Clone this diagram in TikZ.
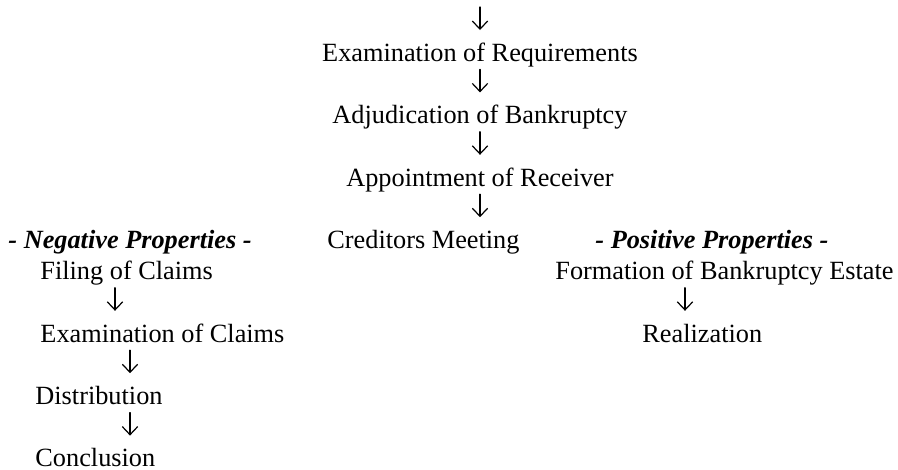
\documentclass[tikz,border=0pt]{standalone}
\usepackage{fontspec}
\setmainfont{Liberation Serif}
\usetikzlibrary{arrows.meta,calc}

\begin{document}
\begin{tikzpicture}[
  x=0.4563pt, y=-0.4563pt,
  every node/.style={inner sep=0pt, font=\fontsize{12pt}{14pt}\selectfont},
  heading/.style={font=\fontsize{12pt}{14pt}\selectfont\bfseries\itshape},
  flow/.style={line width=0.55pt, line cap=round,
    -{Straight Barb[length=3.7pt, width=7pt, line width=0.55pt]}}
]
\useasboundingbox (0,0) rectangle (898,470);

% main sequence, centred
\coordinate (start) at (480,7);
\node[anchor=base] (req) at (480,61.2) {Examination of Requirements};
\node[anchor=base] (adj) at (480,123.6) {Adjudication of Bankruptcy};
\node[anchor=base] (rec) at (480,186) {Appointment of Receiver};
\node[anchor=base west] (cred) at (327,248.4) {Creditors Meeting};

% negative properties branch
\node[heading, anchor=base west] (neg) at (8,248.4) {- Negative Properties -};
\node[anchor=base west] (filing) at (40,279.6) {Filing of Claims};
\node[anchor=base west] (exclaims) at (40,342) {Examination of Claims};
\node[anchor=base west] (dist) at (35,404.4) {Distribution};
\node[anchor=base west] (concl) at (35,466.8) {Conclusion};

% positive properties branch
\node[heading, anchor=base west] (pos) at (595,248.4) {- Positive Properties -};
\node[anchor=base west] (form) at (555,279.6) {Formation of Bankruptcy Estate};
\node[anchor=base west] (real) at (642,342) {Realization};

% arrows of the main sequence
\draw[flow] (start) -- ($(req.base)+(0,-31.2)$);
\draw[flow] ($(req.base)+(0,8.2)$) -- ($(adj.base)+(0,-31.2)$);
\draw[flow] ($(adj.base)+(0,8.2)$) -- ($(rec.base)+(0,-31.2)$);
\draw[flow] ($(rec.base)+(0,8.2)$) -- ($(cred.base west)+(153,-31.2)$);

% arrows of the negative branch
\draw[flow] ($(filing.base west)+(75,8.2)$) -- ($(exclaims.base west)+(75,-31.2)$);
\draw[flow] ($(exclaims.base west)+(90,8.2)$) -- ($(dist.base west)+(95,-31.2)$);
\draw[flow] ($(dist.base west)+(95,8.2)$) -- ($(concl.base west)+(95,-31.2)$);

% arrow of the positive branch
\draw[flow] ($(form.base west)+(130,8.2)$) -- ($(real.base west)+(43,-31.2)$);
\end{tikzpicture}
\end{document}
